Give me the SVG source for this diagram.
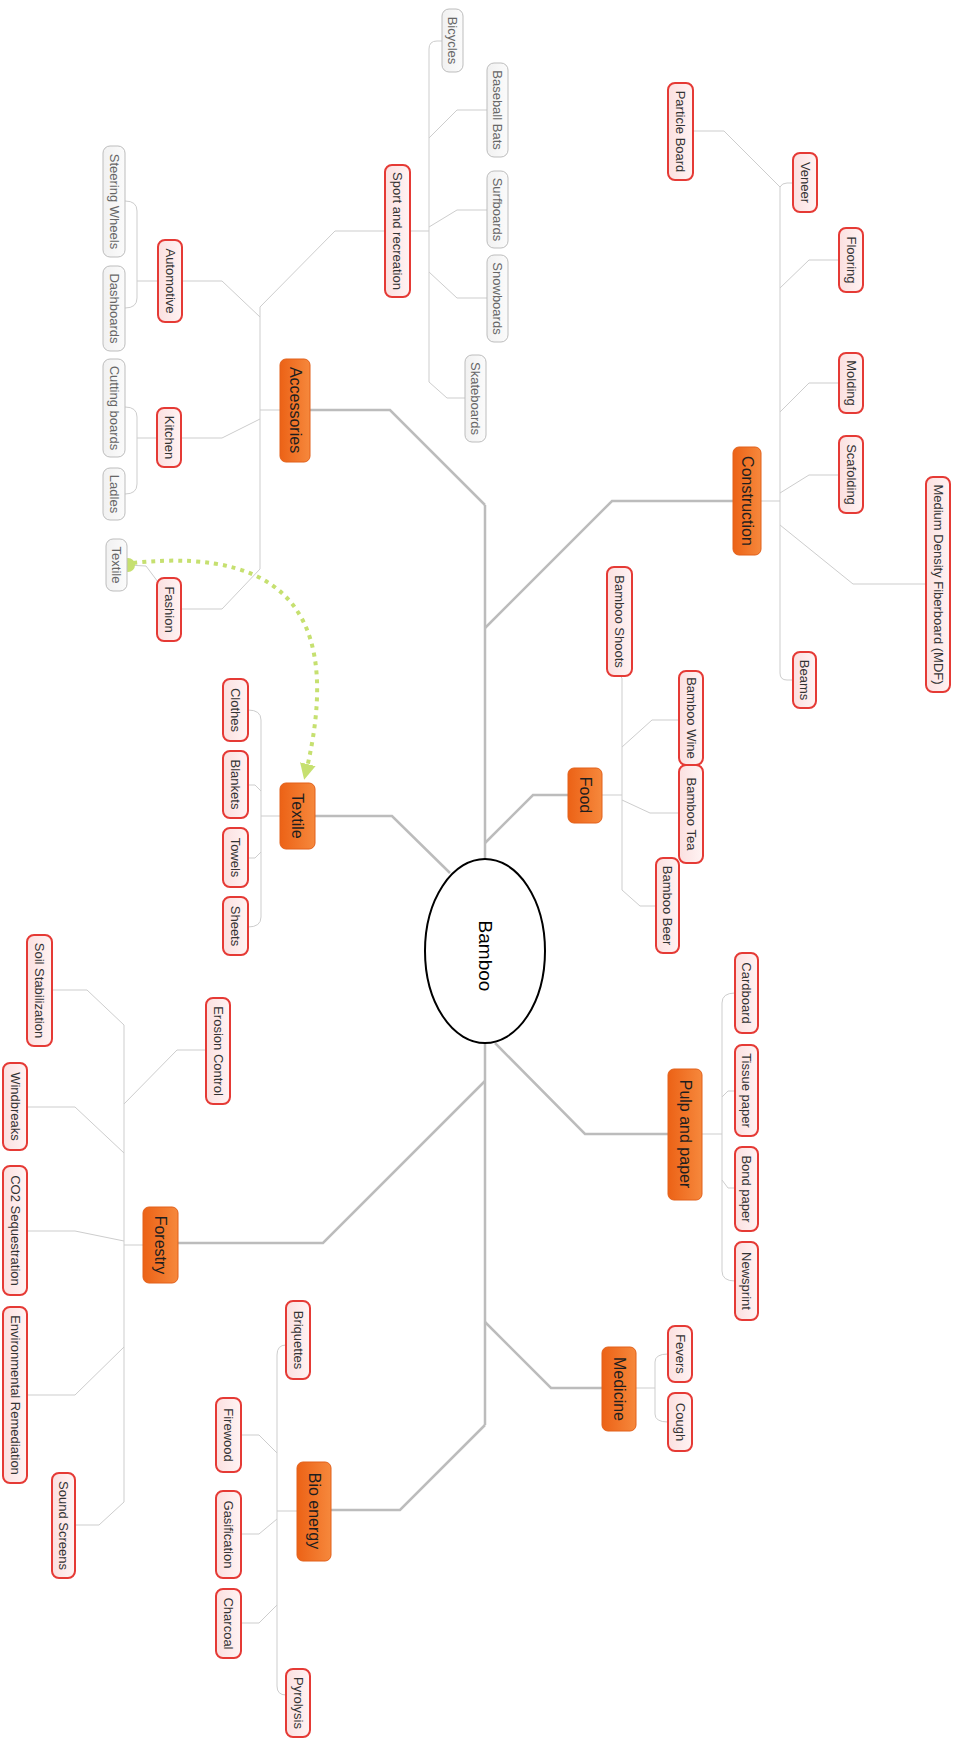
<svg xmlns="http://www.w3.org/2000/svg" width="957" height="1740" viewBox="0 0 957 1740">
<defs>
<linearGradient id="og" x1="0" y1="0" x2="1" y2="0"><stop offset="0" stop-color="#ec6216"/><stop offset="1" stop-color="#f6883c"/></linearGradient>
<linearGradient id="pg" x1="0" y1="0" x2="1" y2="0"><stop offset="0" stop-color="#fbe0e0"/><stop offset="1" stop-color="#fff3f3"/></linearGradient>
<linearGradient id="gg" x1="0" y1="0" x2="1" y2="0"><stop offset="0" stop-color="#f1f1f1"/><stop offset="1" stop-color="#fbfbfb"/></linearGradient>
<marker id="garrow" viewBox="0 0 10 10" refX="5" refY="5" markerWidth="4" markerHeight="4" orient="auto" markerUnits="strokeWidth">
<path d="M0,0 L10,5 L0,10 Z" fill="#c6e070"/>
</marker>
<style>
.main rect{fill:url(#og);stroke:#e2601a;stroke-width:1}
.sub rect{fill:url(#pg);stroke:#e53a35;stroke-width:2}
.grey rect{fill:url(#gg);stroke:#bdbdbd;stroke-width:1}
.main text{font-family:"Liberation Sans",Arial,sans-serif;font-size:16px;fill:#1e1e1e}
.sub text{font-family:"Liberation Sans",Arial,sans-serif;font-size:13px;fill:#333}
.grey text{font-family:"Liberation Sans",Arial,sans-serif;font-size:13px;fill:#666}
text{text-anchor:middle;dominant-baseline:central}
.lm{fill:none;stroke:#bcbcbc;stroke-width:2.5}
.ls{fill:none;stroke:#cdcdcd;stroke-width:1}
</style>
</defs>
<rect width="957" height="1740" fill="#fff"/>
<g id="connectors">
<path class="lm" d="M485,505 L485,1425"/>
<path class="lm" d="M310,410 L390,410 L485,505"/>
<path class="lm" d="M485,628 L612,501 L733,501"/>
<path class="lm" d="M485,843 L533,795 L568,795"/>
<path class="lm" d="M450,873 L392,816 L315,816"/>
<path class="lm" d="M495,1043 L585,1134 L668,1134"/>
<path class="lm" d="M485,1322 L551,1388 L602,1388"/>
<path class="lm" d="M485,1081 L323,1243 L178,1243"/>
<path class="lm" d="M485,1425 L400,1510 L331,1510"/>
<path class="ls" d="M260,307 L260,569 M280,410 L260,410 M385,231 L335,231 L260,307 M182,281 L222,281 L260,317 M181,438 L222,438 L260,419 M181,609 L222,609 L260,569"/>
<path class="ls" d="M158,281 L137,281 M125,201 Q137,201 137,211 L137,298 Q137,308 125,308 M157,438 L137,438 M125,407 Q137,407 137,417 L137,484 Q137,494 125,494 M127,565 L146,566 L158,582"/>
<path class="ls" d="M442,41 L437,41 Q429,41 429,49 L429,382 L447,398 L465,398 M410,231 L429,231 M429,138 L457,110 L487,110 M429,227 L457,210 L487,210 M429,272 L457,298 L487,298"/>
<path class="ls" d="M760,501 L780,501 M693,131 L724,131 L780,187 L780,673 Q780,680 787,680 L793,680 M780,187 Q782,183 787,183 L793,183 M780,288 L809,260 L839,260 M780,412 L809,383 L839,383 M780,493 L809,475 L839,475 M780,525 L853,584 L926,584"/>
<path class="ls" d="M620,676 L622,678 L622,890 L640,906 L657,906 M602,795 L622,795 M622,747 L652,720 L679,720 M622,800 L650,813 L679,813"/>
<path class="ls" d="M280,816 L261,816 M248,710 Q261,710 261,720 L261,917 Q261,927 248,927 M248,785 L255,785 L261,791 M261,852 L255,858 L248,858"/>
<path class="ls" d="M702,1134 L722,1134 M735,993 Q722,993 722,1003 L722,1271 Q722,1281 735,1281 M735,1091 L728,1091 L722,1097 M722,1180 L728,1188 L735,1188"/>
<path class="ls" d="M636,1388 L655,1388 M668,1354 Q655,1354 655,1362 L655,1414 Q655,1422 668,1422"/>
<path class="ls" d="M124,1025 L124,1502 M143,1245 L124,1245 M52,990 L87,990 L124,1025 M206,1050 L177,1050 L124,1104 M27,1107 L75,1107 L124,1153 M27,1231 L75,1231 L124,1241 M27,1395 L75,1395 L124,1347 M75,1525 L99,1525 L124,1502"/>
<path class="ls" d="M286,1345 Q277,1345 277,1355 L277,1686 Q277,1695 286,1695 M297,1511 L277,1511 M241,1435 L259,1435 L277,1453 M241,1534 L259,1534 L277,1519 M241,1623 L259,1623 L277,1605"/>
<circle cx="128" cy="565" r="7" fill="#c6e070"/>
<path d="M133,563 C300,545 340,630 306,772" fill="none" stroke="#c6e070" stroke-width="4" stroke-dasharray="4,5" marker-end="url(#garrow)"/>
</g>
<g id="bamboo"><ellipse cx="485" cy="951" rx="60" ry="92" fill="#fff" stroke="#000" stroke-width="2"/><text x="485" y="956" transform="rotate(90 485 956)" style="font-family:'Liberation Sans',Arial,sans-serif;font-size:19px;fill:#000">Bamboo</text></g>
<g id="accessories" class="main"><rect x="280" y="359" width="30" height="103" rx="6"/><text x="295" y="410" transform="rotate(90 295 410)">Accessories</text></g>
<g id="construction" class="main"><rect x="733" y="447" width="28" height="108" rx="6"/><text x="747" y="501" transform="rotate(90 747 501)">Construction</text></g>
<g id="food" class="main"><rect x="568" y="768" width="34" height="55" rx="6"/><text x="585" y="795" transform="rotate(90 585 795)">Food</text></g>
<g id="textile" class="main"><rect x="280" y="783" width="35" height="66" rx="6"/><text x="297.5" y="816" transform="rotate(90 297.5 816)">Textile</text></g>
<g id="pulp" class="main"><rect x="668" y="1069" width="34" height="131" rx="6"/><text x="685" y="1134" transform="rotate(90 685 1134)">Pulp and paper</text></g>
<g id="medicine" class="main"><rect x="602" y="1347" width="34" height="84" rx="6"/><text x="619" y="1389" transform="rotate(90 619 1389)">Medicine</text></g>
<g id="forestry" class="main"><rect x="143" y="1207" width="35" height="76" rx="6"/><text x="160.5" y="1245" transform="rotate(90 160.5 1245)">Forestry</text></g>
<g id="bioenergy" class="main"><rect x="297" y="1462" width="34" height="99" rx="6"/><text x="314" y="1511" transform="rotate(90 314 1511)">Bio energy</text></g>
<g id="sport" class="sub"><rect x="385" y="165" width="25" height="132" rx="7"/><text x="397.5" y="231" transform="rotate(90 397.5 231)">Sport and recreation</text></g>
<g id="automotive" class="sub"><rect x="158" y="240" width="24" height="82" rx="7"/><text x="170" y="281" transform="rotate(90 170 281)">Automotive</text></g>
<g id="kitchen" class="sub"><rect x="157" y="408" width="24" height="59" rx="7"/><text x="169" y="437.5" transform="rotate(90 169 437.5)">Kitchen</text></g>
<g id="fashion" class="sub"><rect x="157" y="578" width="24" height="63" rx="7"/><text x="169" y="609.5" transform="rotate(90 169 609.5)">Fashion</text></g>
<g id="particle" class="sub"><rect x="668" y="83" width="25" height="97" rx="7"/><text x="680.5" y="131.5" transform="rotate(90 680.5 131.5)">Particle Board</text></g>
<g id="veneer" class="sub"><rect x="793" y="153" width="24" height="59" rx="7"/><text x="805" y="182.5" transform="rotate(90 805 182.5)">Veneer</text></g>
<g id="flooring" class="sub"><rect x="839" y="228" width="24" height="64" rx="7"/><text x="851" y="260" transform="rotate(90 851 260)">Flooring</text></g>
<g id="molding" class="sub"><rect x="839" y="353" width="24" height="60" rx="7"/><text x="851" y="383" transform="rotate(90 851 383)">Molding</text></g>
<g id="scafolding" class="sub"><rect x="839" y="436" width="24" height="77" rx="7"/><text x="851" y="474.5" transform="rotate(90 851 474.5)">Scafolding</text></g>
<g id="mdf" class="sub"><rect x="926" y="477" width="24" height="215" rx="7"/><text x="938" y="584.5" transform="rotate(90 938 584.5)">Medium Density Fiberboard (MDF)</text></g>
<g id="beams" class="sub"><rect x="793" y="652" width="23" height="56" rx="7"/><text x="804.5" y="680" transform="rotate(90 804.5 680)">Beams</text></g>
<g id="shoots" class="sub"><rect x="607" y="567" width="25" height="109" rx="7"/><text x="619.5" y="621.5" transform="rotate(90 619.5 621.5)">Bamboo Shoots</text></g>
<g id="wine" class="sub"><rect x="679" y="671" width="24" height="94" rx="7"/><text x="691" y="718" transform="rotate(90 691 718)">Bamboo Wine</text></g>
<g id="tea" class="sub"><rect x="679" y="765" width="24" height="98" rx="7"/><text x="691" y="814" transform="rotate(90 691 814)">Bamboo Tea</text></g>
<g id="beer" class="sub"><rect x="656" y="858" width="23" height="95" rx="7"/><text x="667.5" y="905.5" transform="rotate(90 667.5 905.5)">Bamboo Beer</text></g>
<g id="clothes" class="sub"><rect x="223" y="679" width="25" height="62" rx="7"/><text x="235.5" y="710" transform="rotate(90 235.5 710)">Clothes</text></g>
<g id="blankets" class="sub"><rect x="223" y="751" width="25" height="67" rx="7"/><text x="235.5" y="784.5" transform="rotate(90 235.5 784.5)">Blankets</text></g>
<g id="towels" class="sub"><rect x="223" y="828" width="25" height="59" rx="7"/><text x="235.5" y="857.5" transform="rotate(90 235.5 857.5)">Towels</text></g>
<g id="sheets" class="sub"><rect x="223" y="897" width="25" height="58" rx="7"/><text x="235.5" y="926" transform="rotate(90 235.5 926)">Sheets</text></g>
<g id="cardboard" class="sub"><rect x="735" y="953" width="23" height="80" rx="7"/><text x="746.5" y="993" transform="rotate(90 746.5 993)">Cardboard</text></g>
<g id="tissue" class="sub"><rect x="735" y="1045" width="23" height="91" rx="7"/><text x="746.5" y="1090.5" transform="rotate(90 746.5 1090.5)">Tissue paper</text></g>
<g id="bond" class="sub"><rect x="735" y="1147" width="23" height="84" rx="7"/><text x="746.5" y="1189" transform="rotate(90 746.5 1189)">Bond paper</text></g>
<g id="newsprint" class="sub"><rect x="735" y="1242" width="23" height="78" rx="7"/><text x="746.5" y="1281" transform="rotate(90 746.5 1281)">Newsprint</text></g>
<g id="fevers" class="sub"><rect x="668" y="1326" width="24" height="56" rx="7"/><text x="680" y="1354" transform="rotate(90 680 1354)">Fevers</text></g>
<g id="cough" class="sub"><rect x="668" y="1393" width="24" height="58" rx="7"/><text x="680" y="1422" transform="rotate(90 680 1422)">Cough</text></g>
<g id="soil" class="sub"><rect x="27" y="935" width="25" height="111" rx="7"/><text x="39.5" y="990.5" transform="rotate(90 39.5 990.5)">Soil Stabilization</text></g>
<g id="erosion" class="sub"><rect x="206" y="998" width="24" height="106" rx="7"/><text x="218" y="1051" transform="rotate(90 218 1051)">Erosion Control</text></g>
<g id="windbreaks" class="sub"><rect x="3" y="1063" width="24" height="87" rx="7"/><text x="15" y="1106.5" transform="rotate(90 15 1106.5)">Windbreaks</text></g>
<g id="co2" class="sub"><rect x="3" y="1166" width="24" height="129" rx="7"/><text x="15" y="1230.5" transform="rotate(90 15 1230.5)">CO2 Sequestration</text></g>
<g id="envrem" class="sub"><rect x="3" y="1307" width="24" height="176" rx="7"/><text x="15" y="1395" transform="rotate(90 15 1395)">Environmental Remediation</text></g>
<g id="sound" class="sub"><rect x="52" y="1473" width="23" height="105" rx="7"/><text x="63.5" y="1525.5" transform="rotate(90 63.5 1525.5)">Sound Screens</text></g>
<g id="briquettes" class="sub"><rect x="286" y="1301" width="24" height="78" rx="7"/><text x="298" y="1340" transform="rotate(90 298 1340)">Briquettes</text></g>
<g id="firewood" class="sub"><rect x="216" y="1398" width="25" height="74" rx="7"/><text x="228.5" y="1435" transform="rotate(90 228.5 1435)">Firewood</text></g>
<g id="gasification" class="sub"><rect x="216" y="1491" width="25" height="87" rx="7"/><text x="228.5" y="1534.5" transform="rotate(90 228.5 1534.5)">Gasification</text></g>
<g id="charcoal" class="sub"><rect x="216" y="1589" width="25" height="69" rx="7"/><text x="228.5" y="1623.5" transform="rotate(90 228.5 1623.5)">Charcoal</text></g>
<g id="pyrolysis" class="sub"><rect x="286" y="1669" width="24" height="68" rx="7"/><text x="298" y="1703" transform="rotate(90 298 1703)">Pyrolysis</text></g>
<g id="bicycles" class="grey"><rect x="442" y="9" width="21" height="63" rx="7"/><text x="452.5" y="40.5" transform="rotate(90 452.5 40.5)">Bicycles</text></g>
<g id="baseball" class="grey"><rect x="487" y="63" width="21" height="94" rx="7"/><text x="497.5" y="110" transform="rotate(90 497.5 110)">Baseball Bats</text></g>
<g id="surfboards" class="grey"><rect x="487" y="171" width="21" height="77" rx="7"/><text x="497.5" y="209.5" transform="rotate(90 497.5 209.5)">Surfboards</text></g>
<g id="snowboards" class="grey"><rect x="487" y="255" width="21" height="87" rx="7"/><text x="497.5" y="298.5" transform="rotate(90 497.5 298.5)">Snowboards</text></g>
<g id="skateboards" class="grey"><rect x="465" y="355" width="21" height="87" rx="7"/><text x="475.5" y="398.5" transform="rotate(90 475.5 398.5)">Skateboards</text></g>
<g id="steering" class="grey"><rect x="103" y="146" width="22" height="111" rx="7"/><text x="114" y="201.5" transform="rotate(90 114 201.5)">Steering Wheels</text></g>
<g id="dashboards" class="grey"><rect x="103" y="266" width="22" height="85" rx="7"/><text x="114" y="308.5" transform="rotate(90 114 308.5)">Dashboards</text></g>
<g id="cutting" class="grey"><rect x="103" y="359" width="22" height="98" rx="7"/><text x="114" y="408" transform="rotate(90 114 408)">Cutting boards</text></g>
<g id="ladles" class="grey"><rect x="103" y="468" width="22" height="52" rx="7"/><text x="114" y="494" transform="rotate(90 114 494)">Ladles</text></g>
<g id="textile-grey" class="grey"><rect x="106" y="539" width="21" height="52" rx="7"/><text x="116.5" y="565" transform="rotate(90 116.5 565)">Textile</text></g>
</svg>
